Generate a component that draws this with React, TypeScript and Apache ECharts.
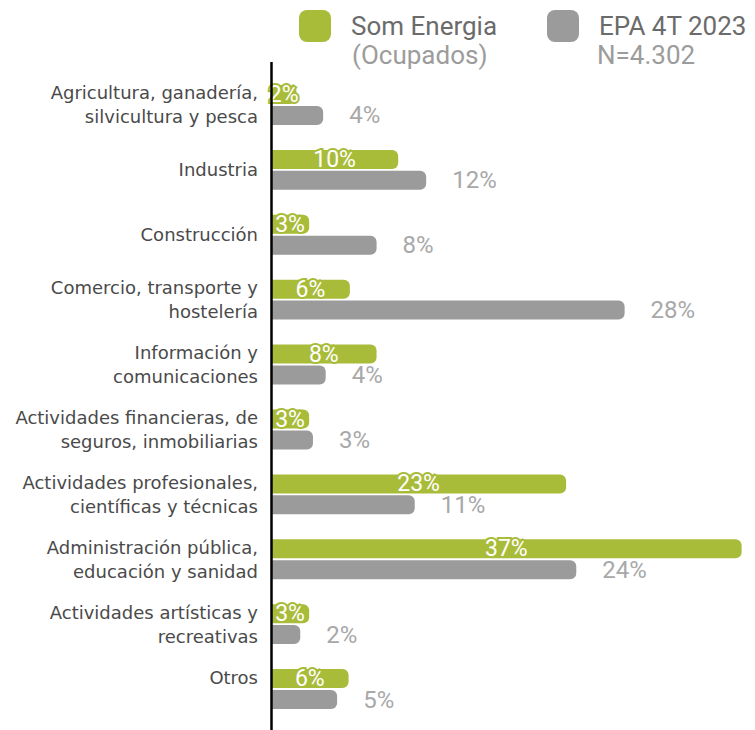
import React, { useEffect, useRef } from "react";
import * as echarts from "echarts";

const categories = [
  "Agricultura, ganadería,\nsilvicultura y pesca",
  "Industria",
  "Construcción",
  "Comercio, transporte y\nhostelería",
  "Información y\ncomunicaciones",
  "Actividades financieras, de\nseguros, inmobiliarias",
  "Actividades profesionales,\ncientíficas y técnicas",
  "Administración pública,\neducación y sanidad",
  "Actividades artísticas y\nrecreativas",
  "Otros\n",
];

const somEnergia = [2.0, 10.0, 3.0, 6.2, 8.3, 3.0, 23.2, 37.0, 3.0, 6.1];
const epa = [4.1, 12.2, 8.3, 27.8, 4.3, 3.3, 11.3, 24.0, 2.3, 5.2];

const seriesNames = ["Som Energia", "EPA 4T 2023"];
const seriesSubtitles = ["(Ocupados)", "N=4.302"];

const GREEN = "#a9bc3a";
const GREY = "#9b9b9b";

export default function App() {
  const ref = useRef<HTMLDivElement>(null);

  useEffect(() => {
    if (!ref.current) return;
    const chart = echarts.init(ref.current, undefined, { renderer: "svg" });
    const pct = (p: any) => Math.round(p.value) + "%";
    const legendText = {
      fontFamily: "Roboto",
      fontSize: 26,
      color: "#6b6b6b",
      rich: {
        gap: { width: 15 },
        t: { fontFamily: "Roboto", fontSize: 26, color: "#6b6b6b" },
      },
    };
    chart.setOption({
      animation: false,
      legend: [
        {
          data: [seriesNames[0]],
          left: 299,
          top: 10,
          padding: 0,
          itemWidth: 32,
          itemHeight: 32,
          icon: "roundRect",
          formatter: (n: string) => "{gap|}{t|" + n + "}",
          textStyle: legendText,
        },
        {
          data: [seriesNames[1]],
          left: 547,
          top: 10,
          padding: 0,
          itemWidth: 32,
          itemHeight: 32,
          icon: "roundRect",
          formatter: (n: string) => "{gap|}{t|" + n + "}",
          textStyle: legendText,
        },
      ],
      graphic: [
        {
          type: "text",
          left: 352,
          top: 42,
          style: {
            text: seriesSubtitles[0],
            fontFamily: "Roboto",
            fontSize: 26,
            fill: "#9c9c9c",
          },
        },
        {
          type: "text",
          left: 597,
          top: 42,
          style: {
            text: seriesSubtitles[1],
            fontFamily: "Roboto",
            fontSize: 26,
            fill: "#9c9c9c",
          },
        },
        {
          type: "line",
          shape: { x1: 271.5, y1: 62, x2: 271.5, y2: 730 },
          style: { stroke: "#000", lineWidth: 2.5 },
          z: 10,
        },
      ],
      grid: {
        left: 271,
        top: 72.5,
        width: 38 * 12.72,
        height: 649,
        containLabel: false,
      },
      xAxis: {
        type: "value",
        min: 0,
        max: 38,
        show: false,
      },
      yAxis: {
        type: "category",
        data: categories,
        inverse: true,
        axisLine: { show: false },
        axisTick: { show: false },
        splitLine: { show: false },
        axisLabel: {
          margin: 13,
          fontFamily: "DejaVu Sans",
          fontSize: 18,
          lineHeight: 24,
          color: "#4a4a4a",
          align: "right",
        },
      },
      series: [
        {
          name: seriesNames[0],
          type: "bar",
          data: somEnergia,
          barWidth: 19,
          barGap: "10%",
          itemStyle: { color: GREEN, borderRadius: [0, 6, 6, 0] },
          label: {
            show: true,
            position: "inside",
            formatter: pct,
            fontFamily: "Roboto",
            fontSize: 23,
            color: "#ffffff",
            textBorderColor: GREEN,
            textBorderWidth: 4,
          },
        },
        {
          name: seriesNames[1],
          type: "bar",
          data: epa,
          barWidth: 19,
          itemStyle: { color: GREY, borderRadius: [0, 6, 6, 0] },
          label: {
            show: true,
            position: "right",
            distance: 26,
            formatter: pct,
            fontFamily: "Roboto",
            fontSize: 24,
            color: "#a8a8a8",
          },
        },
      ],
    });
    return () => chart.dispose();
  }, []);

  return (
    <div
      ref={ref}
      style={{ position: "absolute", left: 0, top: 0, width: 755, height: 730 }}
    />
  );
}
